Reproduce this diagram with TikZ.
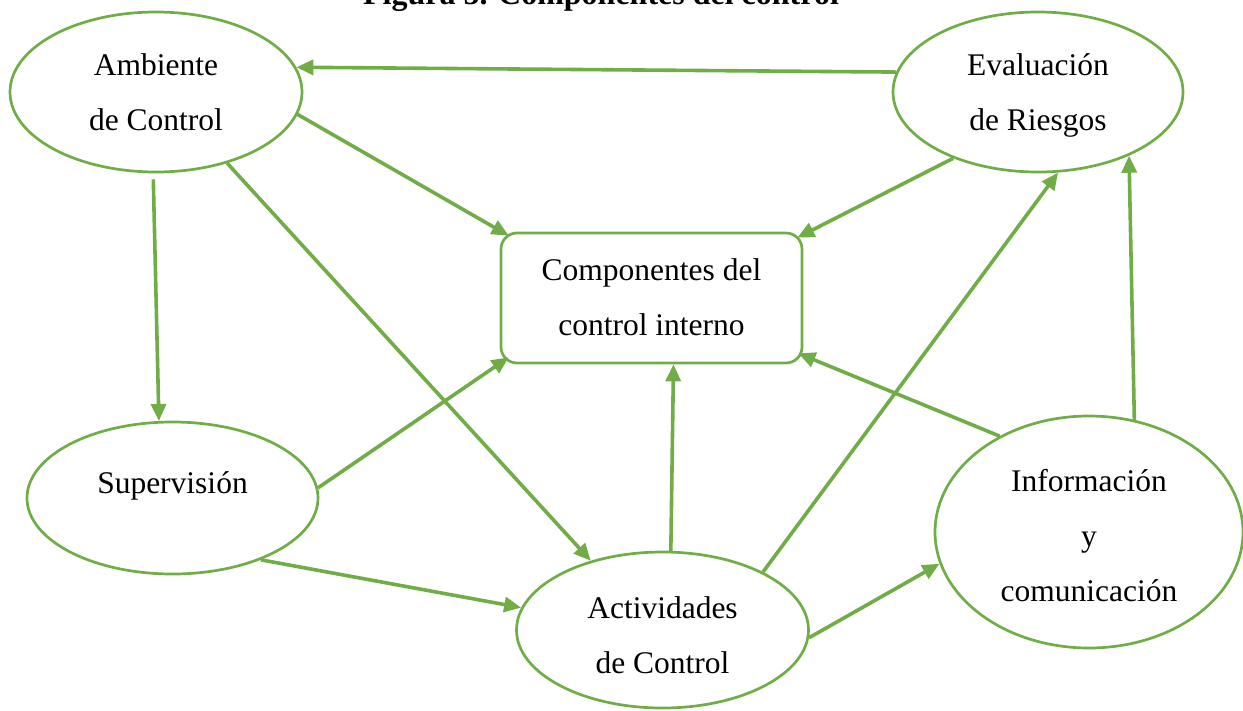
\documentclass[tikz,border=0pt]{standalone}
\usepackage{fontspec}
\setmainfont{Liberation Serif}
\usetikzlibrary{arrows.meta,calc,shapes.geometric}
\definecolor{grn}{RGB}{112,173,71}
\newcommand{\topst}[1]{\rule{0pt}{#1}}
\newcommand{\botst}{\rule[-8pt]{0pt}{8pt}}
\begin{document}
\begin{tikzpicture}[x=1pt,y=-1pt,
  comp/.style={ellipse, draw=grn, line width=2.7pt, inner sep=0pt, align=center,
    font=\fontsize{31.5}{55}\selectfont},
  box/.style={rectangle, rounded corners=16pt, draw=grn, line width=2.7pt, inner sep=0pt,
    minimum width=301pt, minimum height=130pt, align=center,
    font=\fontsize{31.5}{55}\selectfont},
  arr/.style={draw=grn, line width=3.6pt, -{Triangle[length=17pt,width=15pt]}}]
\useasboundingbox (0,0) rectangle (1243,710);
\clip (0,0) rectangle (1243,710);
\node[font=\bfseries\fontsize{32}{38}\selectfont, anchor=base] (title) at (601,4) {Figura 5. Componentes del control};
\node[comp, minimum width=292pt, minimum height=160pt] (amb) at (156,92) {\topst{29pt}Ambiente\\de Control\botst};
\node[comp, minimum width=290pt, minimum height=160pt] (eva) at (1038,92) {\topst{29pt}Evaluación\\de Riesgos\botst};
\node[box] (box) at (651.5,298) {\topst{27pt}Componentes del\\control interno\botst};
\node[comp, minimum width=291pt, minimum height=152pt] (sup) at (172.5,498) {\topst{24pt}Supervisión\rule[-34pt]{0pt}{34pt}};
\node[comp, minimum width=292pt, minimum height=156pt] (act) at (662.5,630) {\topst{39pt}Actividades\\de Control\botst};
\node[comp, minimum width=308pt, minimum height=232pt] (inf) at (1089,532) {\topst{36pt}Información\\y\\comunicación\botst};
\draw[arr] (eva.172.5) -- (amb.10);
\draw[arr] (amb.-9) -- ($(box.north west)+(9,4)$);
\draw[arr] (amb.-45) -- (act.136);
\draw[arr, shorten <=6pt] (amb.-92.7) -- (sup.100.8);
\draw[arr] (eva.218.5) -- ($(box.north east)+(-6,6)$);
\draw[arr] (sup.4.7) -- ($(box.south west)+(9,-7)$);
\draw[arr] (sup.-35) -- (act.171.7);
\draw[arr] (act.84.4) -- ($(box.south)+(22,0)$);
\draw[arr] (act.30.3) -- (eva.-76.3);
\draw[arr] (act.-3.1) -- (inf.192.7);
\draw[arr] (inf.133.8) -- ($(box.south east)+(-5,-11)$);
\draw[arr] (inf.68.2) -- (eva.-35.3);
\end{tikzpicture}
\end{document}
